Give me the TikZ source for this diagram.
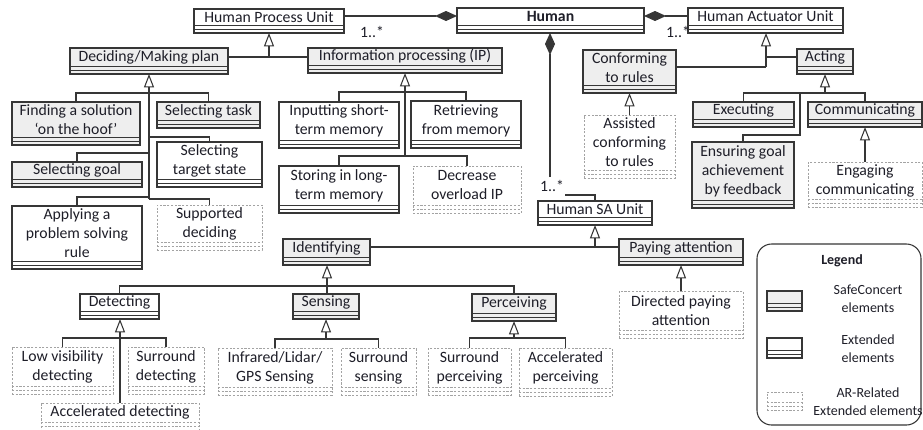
\documentclass[tikz,border=0pt]{standalone}
\usepackage{fontspec}
\setmainfont{Carlito}
\usetikzlibrary{arrows.meta,calc}
\definecolor{bordc}{HTML}{363636}
\definecolor{scfill}{HTML}{EEEEEE}
\definecolor{arc}{HTML}{A3A3A3}
\definecolor{textc}{HTML}{1E1E28}
\tikzset{
  boxbase/.style={rectangle, inner sep=0pt, outer sep=0pt},
  boxsc/.style={boxbase, draw=bordc, line width=0.95pt, fill=scfill},
  boxext/.style={boxbase, draw=bordc, line width=0.95pt, fill=white},
  boxar/.style={boxbase, draw=arc, line width=0.6pt, dash pattern=on 1.6pt off 1.2pt, fill=white},
  stripsc/.style={draw=bordc, line width=0.6pt},
  stripext/.style={draw=bordc, line width=0.6pt},
  stripar/.style={draw=arc, line width=0.6pt, dash pattern=on 1.6pt off 1.2pt},
  lbl/.style={font=\fontsize{11.8}{14.25}\selectfont, text=textc, align=center, inner sep=0pt},
  leglbl/.style={font=\fontsize{10.5}{13.5}\selectfont, text=textc, align=center, inner sep=0pt},
  conn/.style={draw=bordc, line width=0.8pt},
  inh/.style={conn, -{Triangle[open, length=10pt, width=7.5pt, line width=0.8pt]}},
  comp/.style={conn, -{Diamond[length=16.5pt, width=7.5pt]}},
  legendbox/.style={rectangle, draw=bordc, line width=0.8pt, rounded corners=11pt, inner sep=0pt, outer sep=0pt},
}
% #1 name, #2 kind (sc/ext/ar), #3 x1, #4 y1, #5 x2, #6 y2, #7 text
\newcommand\umlbox[7]{%
  \node[box#2, anchor=north west, minimum width={(#5-#3)*0.75pt}, minimum height={(#6-#4)*0.75pt}] (#1) at (#3,#4) {};
  \draw[strip#2] (#3,#6-4) -- (#5,#6-4);
  \draw[strip#2] (#3,#6-8) -- (#5,#6-8);
  \node[lbl] (#1-t) at ({(#3+#5)/2},{(#4+#6-8)/2}) {#7};
}
\begin{document}
\begin{tikzpicture}[x=0.75pt,y=-0.75pt]
\useasboundingbox (0,0) rectangle (923,429);

% top level
\umlbox{hpu}{ext}{194}{9}{344}{33}{Human Process Unit}
\umlbox{human}{ext}{457}{8}{644}{33}{\textbf{Human}}
\umlbox{hau}{ext}{688}{8}{843}{33}{Human Actuator Unit}

\umlbox{decide}{sc}{70}{48}{228}{74}{Deciding/Making plan}
\umlbox{ip}{sc}{308}{48}{502}{73}{Information processing (IP)}
\umlbox{conf}{sc}{583}{50}{676}{93}{Conforming\\to rules}
\umlbox{acting}{sc}{797}{49}{853}{74}{Acting}

% deciding children
\umlbox{finding}{sc}{12}{102}{140}{145}{Finding a solution\\‘on the hoof’}
\umlbox{task}{sc}{157}{102}{260}{128}{Selecting task}
\umlbox{goal}{sc}{12}{162}{142}{187}{Selecting goal}
\umlbox{target}{ext}{157}{142}{262}{187}{Selecting\\target state}
\umlbox{apply}{ext}{12}{206}{142}{269}{Applying a\\problem solving\\rule}
\umlbox{supp}{ar}{157}{205}{262}{250}{Supported\\deciding}

% IP children
\umlbox{input}{ext}{279}{102}{399}{148}{Inputting short-\\term memory}
\umlbox{retr}{ext}{411}{101}{521}{148}{Retrieving\\from memory}
\umlbox{store}{ext}{279}{166}{399}{213}{Storing in long-\\term memory}
\umlbox{decr}{ar}{413}{166}{521}{213}{Decrease\\overload IP}

% actuator children
\umlbox{assist}{ar}{584}{115}{675}{178}{Assisted\\conforming\\to rules}
\umlbox{exec}{sc}{693}{102}{794}{127}{Executing}
\umlbox{comm}{sc}{808}{102}{922}{127}{Communicating}
\umlbox{ensure}{sc}{692}{142}{794}{208}{Ensuring goal\\achievement\\by feedback}
\umlbox{engage}{ar}{808}{162}{922}{207}{Engaging\\communicating}

% SA
\umlbox{sa}{ext}{538}{201}{652}{225}{Human SA Unit}
\umlbox{ident}{sc}{283}{239}{370}{265}{Identifying}
\umlbox{pay}{sc}{619}{239}{743}{265}{Paying attention}
\umlbox{dir}{ar}{619}{291}{743}{338}{Directed paying\\attention}
\umlbox{detect}{ext}{80}{294}{159}{319}{Detecting}
\umlbox{sens}{sc}{293}{294}{359}{319}{Sensing}
\umlbox{perc}{sc}{472}{294}{556}{321}{Perceiving}
\umlbox{low}{ar}{12}{347}{113}{394}{Low visibility\\detecting}
\umlbox{surd}{ar}{128}{347}{204}{394}{Surround\\detecting}
\umlbox{accd}{ar}{41}{403}{199}{430}{Accelerated detecting}
\umlbox{inf}{ar}{218}{348}{332}{395}{Infrared/Lidar/\\GPS Sensing}
\umlbox{surs}{ar}{341}{348}{416}{395}{Surround\\sensing}
\umlbox{surp}{ar}{428}{348}{511}{395}{Surround\\perceiving}
\umlbox{accp}{ar}{519}{348}{612}{396}{Accelerated\\perceiving}

% compositions
\draw[comp] (hpu.east |- 0,16) -- (human.west |- 0,16);
\draw[comp] (hau.west |- 0,16) -- (human.east |- 0,16);
\coordinate (saEnd) at (550,177);
\draw[comp] (saEnd) -- (human.south -| saEnd);
\node[lbl] (m1) at (372,32) {1..*};
\node[lbl] (m2) at (678,32) {1..*};
\node[lbl] (m3) at (552,186) {1..*};
\draw[conn] (565,195) -| (sa.north);

% HPU generalisation
\coordinate (hpJ) at (269,57);
\draw[inh] (hpJ) -- (hpu.south -| hpJ);
\draw[conn] (decide.east |- hpJ) -- (ip.west |- hpJ);

% deciding children
\coordinate (dA) at (149,93);
\draw[inh] (dA) -- (decide.south);
\draw[conn] (finding.north) |- (dA) -- (task.north |- dA) -- (task.north);
\draw[conn] (dA) -- (149,199);
\draw[conn] (target.north) |- (149,137);
\draw[conn] (goal.north) |- (149,153);
\draw[conn] (apply.north) |- (149,197);
\draw[conn] (supp.north) |- (149,199);

% IP children
\coordinate (iA) at (405,92);
\coordinate (iB) at (405,156);
\draw[inh] (iA) -- (ip.south);
\draw[conn] (input.north) |- (iA) -- (retr.north |- iA) -- (retr.north);
\draw[conn] (iA) -- (iB);
\draw[conn] (store.north) |- (iB) -- (decr.north |- iB) -- (decr.north);

% HAU children
\coordinate (hA) at (766,67);
\coordinate (hB) at (766,57);
\draw[inh] (hA) -- (hau.south -| hA);
\draw[conn] (conf.east |- hA) -- (hA);
\draw[conn] (acting.west |- hB) -- (hB);
\draw[inh] (assist.north) -- (conf.south);

% acting children
\coordinate (aA) at (825,93);
\coordinate (aB) at (800,135);
\draw[inh] (aA) -- (acting.south -| aA);
\draw[conn] (exec.north) |- (aA) -- (comm.north |- aA) -- (comm.north);
\draw[conn] (ensure.north) |- (aB) -- (aB |- aA);
\draw[inh] (engage.north) -- (comm.south);

% SA generalisation
\coordinate (sJ) at (595,247);
\draw[inh] (sJ) -- (sa.south -| sJ);
\draw[conn] (ident.east |- sJ) -- (pay.west |- sJ);
\draw[inh] (dir.north) -- (pay.south);

% identifying children
\coordinate (idA) at (327,286);
\draw[inh] (idA) -- (ident.south -| idA);
\draw[conn] (detect.north) |- (idA) -- (perc.north |- idA) -- (perc.north);
\draw[conn] (idA) -- (sens.north -| idA);

% detecting children
\coordinate (dtA) at (120,338);
\draw[inh] (dtA) -- (detect.south -| dtA);
\draw[conn] (low.north) |- (dtA) -- (surd.north |- dtA) -- (surd.north);
\draw[conn] (dtA) -- (accd.north -| dtA);

% sensing children
\coordinate (snA) at (326,339);
\draw[inh] (snA) -- (sens.south);
\draw[conn] (inf.north) |- (snA) -- (surs.north |- snA) -- (surs.north);

% perceiving children
\coordinate (pcA) at (514,338);
\draw[inh] (pcA) -- (perc.south);
\draw[conn] (surp.north) |- (pcA) -- (accp.north |- pcA) -- (accp.north);

% legend
\node[legendbox, anchor=north west, minimum width={164*0.75pt}, minimum height={181*0.75pt}] (legend) at (757,244) {};
\node[leglbl, font=\fontsize{10.5}{13.5}\selectfont\bfseries] (legtitle) at (842,261) {Legend};
\umlbox{lsc}{sc}{767}{291}{802}{311}{}
\umlbox{lext}{ext}{767}{338}{802}{358}{}
\umlbox{lar}{ar}{767}{392}{802}{410}{}
\node[leglbl] (lsct) at (868,299) {SafeConcert\\elements};
\node[leglbl] (lextt) at (868,349) {Extended\\elements};
\node[leglbl] (lart) at (868,402) {AR-Related\\Extended elements};
\end{tikzpicture}
\end{document}
